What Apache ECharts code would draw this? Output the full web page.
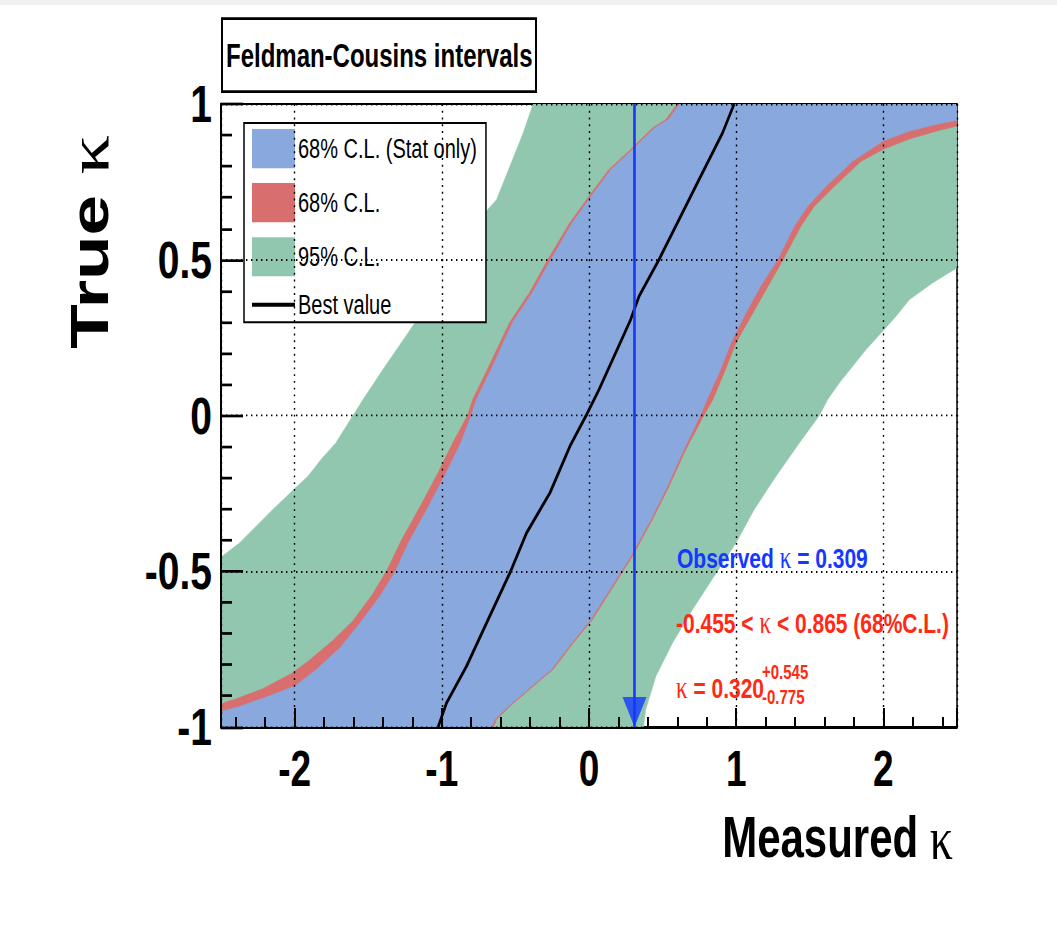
<!DOCTYPE html>
<html>
<head>
<meta charset="utf-8">
<script src="https://cdn.jsdelivr.net/npm/echarts@6/dist/echarts.min.js"></script>
<style>
html,body{margin:0;padding:0;background:#fff;overflow:hidden}
#wrap{position:relative;width:1057px;height:936px;overflow:hidden;background:#fff}
#chart{position:absolute;left:0;top:0;width:1057px;height:693px;transform-origin:0 0}
#strip{position:absolute;left:0;top:0;width:1057px;height:5px;background:#eef0f2}
</style>
</head>
<body>
<div id="wrap"><div id="chart"></div><div id="strip"></div></div>
<script>
// ---------------- data ----------------
const X_RANGE = [-2.5, 2.5];            // measured kappa axis extent
const Y_RANGE = [-1, 1];                // true kappa axis extent
const X_LABELS = [-2, -1, 0, 1, 2];
const X_MAJOR_TICKS = [-2.5, -2, -1, 0, 1, 2, 2.5];
const X_MINOR_TICKS = [-2.4, -2.2, -1.8, -1.6, -1.4, -1.2, -0.8, -0.6, -0.4, -0.2,
                       0.2, 0.4, 0.6, 0.8, 1.2, 1.4, 1.6, 1.8, 2.2, 2.4];
const Y_INTERVAL = 0.5;

const OBSERVED_KAPPA = 0.309;

// 95% C.L. band: upper-left edge and lower-right edge, [measured, true]
const GREEN_LO = [[-2.5,-0.455],[-2.374,-0.409],[-2.148,-0.302],[-2.007,-0.238],[-1.909,-0.195],
  [-1.82,-0.141],[-1.72,-0.088],[-1.603,0.0],[-1.535,0.051],[-1.385,0.158],[-1.229,0.265],
  [-1.04,0.40],[-0.86,0.54],[-0.707,0.651],[-0.628,0.693],[-0.537,0.80],[-0.447,0.907],[-0.379,1.0]];
const GREEN_HI = [[0.37,-1.0],[0.385,-0.944],[0.454,-0.837],[0.567,-0.73],[0.703,-0.623],[0.85,-0.516],
  [0.998,-0.409],[1.122,-0.302],[1.27,-0.195],[1.429,-0.088],[1.565,0.0],[1.621,0.051],[1.701,0.105],
  [1.791,0.158],[1.882,0.212],[1.984,0.265],[2.086,0.319],[2.177,0.372],[2.336,0.426],[2.5,0.474]];

// 68% C.L. band (with systematics)
const RED_LO = [[-2.5,-0.925],[-2.40,-0.91],[-2.22,-0.878],[-2.02,-0.828],[-1.90,-0.786],[-1.74,-0.722],
  [-1.605,-0.66],[-1.47,-0.574],[-1.37,-0.494],[-1.277,-0.403],[-1.152,-0.296],[-1.032,-0.19],
  [-0.92,-0.083],[-0.825,0.0],[-0.79,0.051],[-0.68,0.158],[-0.54,0.298],[-0.405,0.394],[-0.28,0.50],
  [-0.13,0.619],[0.0,0.704],[0.136,0.79],[0.272,0.849],[0.431,0.923],[0.522,0.95],[0.60,1.0]];
const RED_HI = [[-0.65,-1.0],[-0.628,-0.976],[-0.537,-0.933],[-0.379,-0.869],[-0.243,-0.815],
  [-0.107,-0.73],[0.023,-0.655],[0.181,-0.537],[0.295,-0.452],[0.431,-0.334],[0.544,-0.227],
  [0.658,-0.109],[0.78,0.0],[0.84,0.05],[0.918,0.137],[0.998,0.233],[1.09,0.31],[1.21,0.41],
  [1.318,0.50],[1.44,0.608],[1.531,0.672],[1.667,0.736],[1.848,0.816],[2.0,0.855],[2.177,0.888],
  [2.381,0.916],[2.5,0.929]];

// 68% C.L. band (stat only)
const BLUE_LO = [[-2.5,-0.95],[-2.38,-0.935],[-2.2,-0.905],[-2.0,-0.869],[-1.85,-0.815],[-1.69,-0.745],
  [-1.555,-0.666],[-1.42,-0.58],[-1.315,-0.5],[-1.227,-0.409],[-1.102,-0.302],[-0.982,-0.195],
  [-0.871,-0.088],[-0.80,0.0],[-0.765,0.051],[-0.655,0.158],[-0.52,0.298],[-0.385,0.394],[-0.26,0.50],
  [-0.113,0.619],[0.015,0.704],[0.15,0.79],[0.285,0.849],[0.445,0.923],[0.54,0.95],[0.615,1.0]];
const BLUE_HI = [[-0.662,-1.0],[-0.64,-0.976],[-0.548,-0.933],[-0.39,-0.869],[-0.254,-0.815],
  [-0.118,-0.73],[0.012,-0.655],[0.17,-0.537],[0.284,-0.452],[0.42,-0.334],[0.532,-0.227],
  [0.645,-0.109],[0.755,0.0],[0.80,0.05],[0.884,0.137],[0.964,0.233],[1.055,0.32],[1.165,0.415],
  [1.281,0.50],[1.395,0.608],[1.485,0.672],[1.61,0.736],[1.79,0.816],[2.0,0.882],[2.177,0.913],
  [2.381,0.937],[2.5,0.948]];

// best value curve
const BEST_VALUE = [[-1.025,-1.0],[-0.968,-0.923],[-0.832,-0.805],[-0.696,-0.666],[-0.537,-0.505],
  [-0.424,-0.377],[-0.265,-0.248],[-0.129,-0.098],[-0.016,0.003],[0.068,0.083],[0.181,0.201],
  [0.283,0.308],[0.34,0.383],[0.476,0.501],[0.635,0.651],[0.771,0.779],[0.907,0.907],[0.986,1.0]];

const LEGEND_NAMES = ['68% C.L. (Stat only)', '68% C.L.', '95% C.L.', 'Best value'];
const TITLE = 'Feldman-Cousins intervals';

// ---------------- styling ----------------
const S = 936 / 693;                    // the reference canvas is stretched vertically
document.getElementById('chart').style.transform = 'scaleY(' + S + ')';
const vy = p => p / S;

const BLUE = '#89a8dd', RED = '#d96e6e', GREEN = '#91c7ae';
const OBS_COLOR = '#1438ff', TXT_RED = '#ff2a12';
const SANS = "'Liberation Sans', Arial, Helvetica, sans-serif";
const SERIF = "'Liberation Serif', 'Times New Roman', serif";

function band(name, color, lo, hi) {
  const poly = lo.concat([[X_RANGE[1], Y_RANGE[1]]], hi.slice().reverse(), [[X_RANGE[0], Y_RANGE[0]]]);
  return {
    type: 'custom', name: name, coordinateSystem: 'cartesian2d', clip: true, silent: true,
    xAxisIndex: 0, yAxisIndex: 0,
    itemStyle: { color: color }, data: poly, encode: { x: 0, y: 1 }, z: 2,
    renderItem: function (params, api) {
      if (params.dataIndex !== 0) return null;
      const pts = poly.map(p => api.coord(p));
      return { type: 'polygon', shape: { points: pts }, style: { fill: color, stroke: color, lineWidth: 0.5 } };
    }
  };
}

const chart = echarts.init(document.getElementById('chart'), null, { renderer: 'svg' });

const dotted = { color: '#000', width: 1.4, type: [1.4, 3.6] };
const GRID_BOX = { left: 221, right: 100, top: vy(104), bottom: 693 - vy(727) };

chart.setOption({
  animation: false,
  backgroundColor: '#fff',
  title: {
    text: TITLE, left: 222, top: vy(18),
    padding: [15.5, 4], borderColor: '#000', borderWidth: 2, backgroundColor: '#fff',
    textStyle: { fontFamily: SANS, fontWeight: 'bold', fontSize: 24, color: '#000', lineHeight: 24 }
  },
  legend: {
    orient: 'vertical', left: 244, top: vy(123), z: 4,
    padding: [4.5, 9, 3, 8], itemWidth: 43, itemHeight: 29, itemGap: 11,
    borderColor: '#000', borderWidth: 1.5, backgroundColor: '#fff', selectedMode: false,
    textStyle: { fontFamily: SANS, fontSize: 20, color: '#000', padding: [0, 0, 0, -2] },
    data: [
      { name: LEGEND_NAMES[0], icon: 'rect' },
      { name: LEGEND_NAMES[1], icon: 'rect' },
      { name: LEGEND_NAMES[2], icon: 'rect' },
      { name: LEGEND_NAMES[3], icon: 'path://M0,0L43,0L43,3L0,3Z' }
    ]
  },
  grid: [
    Object.assign({ show: true, borderColor: '#000', borderWidth: 1.5, backgroundColor: '#fff' }, GRID_BOX),
    Object.assign({ show: false }, GRID_BOX)
  ],
  xAxis: [{
    type: 'value', gridIndex: 0, min: X_RANGE[0], max: X_RANGE[1], position: 'bottom', z: 10,
    axisLine: { show: true, onZero: false, lineStyle: { color: '#000', width: 1.6 } },
    axisTick: { show: true, inside: true, length: vy(19), customValues: X_MAJOR_TICKS, lineStyle: { color: '#000', width: 2 } },
    axisLabel: { customValues: X_LABELS, margin: 12, fontFamily: SANS, fontWeight: 'bold', fontSize: 37, color: '#000' },
    splitLine: { show: true, lineStyle: dotted }
  }, {
    type: 'value', gridIndex: 1, min: X_RANGE[0], max: X_RANGE[1], position: 'bottom', z: 10,
    axisLine: { show: false, onZero: false },
    axisTick: { show: true, inside: true, length: vy(10), customValues: X_MINOR_TICKS, lineStyle: { color: '#000', width: 2 } },
    axisLabel: { show: false }, splitLine: { show: false }
  }],
  yAxis: [{
    type: 'value', gridIndex: 0, min: Y_RANGE[0], max: Y_RANGE[1], interval: Y_INTERVAL, z: 10,
    axisLine: { show: true, onZero: false, lineStyle: { color: '#000', width: 2 } },
    axisTick: { show: true, inside: true, length: 22, lineStyle: { color: '#000', width: 2 } },
    minorTick: { show: true, splitNumber: 5, length: 11, lineStyle: { color: '#000', width: 2 } },
    axisLabel: { margin: 9, fontFamily: SANS, fontWeight: 'bold', fontSize: 39, color: '#000' },
    splitLine: { show: true, lineStyle: dotted }
  }, {
    type: 'value', gridIndex: 1, min: Y_RANGE[0], max: Y_RANGE[1], interval: Y_INTERVAL,
    axisLine: { show: false, onZero: false }, axisTick: { show: false },
    axisLabel: { show: false }, splitLine: { show: false }
  }],
  series: [
    band(LEGEND_NAMES[2], GREEN, GREEN_LO, GREEN_HI),
    band(LEGEND_NAMES[1], RED, RED_LO, RED_HI),
    band(LEGEND_NAMES[0], BLUE, BLUE_LO, BLUE_HI),
    {
      type: 'line', name: LEGEND_NAMES[3], data: BEST_VALUE, symbol: 'none', color: '#000',
      xAxisIndex: 0, yAxisIndex: 0,
      lineStyle: { color: '#000', width: 2.6 }, z: 3, silent: true
    },
    {
      type: 'line', name: 'Observed', data: [[OBSERVED_KAPPA, Y_RANGE[1]], [OBSERVED_KAPPA, Y_RANGE[0]]],
      xAxisIndex: 0, yAxisIndex: 0,
      symbol: 'none', color: OBS_COLOR, lineStyle: { color: OBS_COLOR, width: 2.6 }, z: 4, silent: true
    },
    {
      type: 'scatter', name: 'Observed arrow', data: [[OBSERVED_KAPPA, Y_RANGE[0]]],
      xAxisIndex: 0, yAxisIndex: 0,
      symbol: 'triangle', symbolRotate: 180, symbolSize: [24, vy(30)], symbolOffset: [0, -vy(30) / 2],
      itemStyle: { color: OBS_COLOR }, z: 5, silent: true
    }
  ],
  graphic: [
    { type: 'text', x: 677, y: vy(558), z: 20, style: {
        text: '{b|Observed }{k|κ}{b| = 0.309}', fill: OBS_COLOR, align: 'left', verticalAlign: 'middle',
        rich: { b: { fontFamily: SANS, fontWeight: 'bold', fontSize: 21, fill: OBS_COLOR },
                k: { fontFamily: SERIF, fontSize: 23, fill: OBS_COLOR } } } },
    { type: 'text', x: 676, y: vy(623), z: 20, style: {
        text: '{b|-0.455 < }{k|κ}{b| < 0.865 (68%C.L.)}', fill: TXT_RED, align: 'left', verticalAlign: 'middle',
        rich: { b: { fontFamily: SANS, fontWeight: 'bold', fontSize: 21, fill: TXT_RED },
                k: { fontFamily: SERIF, fontSize: 23, fill: TXT_RED } } } },
    { type: 'text', x: 676, y: vy(688), z: 20, style: {
        text: '{k|κ}{b| = 0.320}', fill: TXT_RED, align: 'left', verticalAlign: 'middle',
        rich: { b: { fontFamily: SANS, fontWeight: 'bold', fontSize: 21, fill: TXT_RED },
                k: { fontFamily: SERIF, fontSize: 23, fill: TXT_RED } } } },
    { type: 'text', x: 762, y: vy(672), z: 20, style: {
        text: '+0.545', fill: TXT_RED, align: 'left', verticalAlign: 'middle',
        fontFamily: SANS, fontWeight: 'bold', fontSize: 15 } },
    { type: 'text', x: 762, y: vy(697), z: 20, style: {
        text: '-0.775', fill: TXT_RED, align: 'left', verticalAlign: 'middle',
        fontFamily: SANS, fontWeight: 'bold', fontSize: 15 } },
    { type: 'text', x: 953, y: vy(838), z: 20, style: {
        text: '{b|Measured }{k|κ}', fill: '#000', align: 'right', verticalAlign: 'middle',
        rich: { b: { fontFamily: SANS, fontWeight: 'bold', fontSize: 42 },
                k: { fontFamily: SERIF, fontSize: 46 } } } },
    { type: 'text', x: 89, y: vy(242), rotation: Math.PI / 2, z: 20, style: {
        text: '{b|True }{k|κ}', fill: '#000', align: 'center', verticalAlign: 'middle',
        rich: { b: { fontFamily: SANS, fontWeight: 'bold', fontSize: 54 },
                k: { fontFamily: SERIF, fontSize: 58 } } } }
  ]
});
</script>
</body>
</html>
